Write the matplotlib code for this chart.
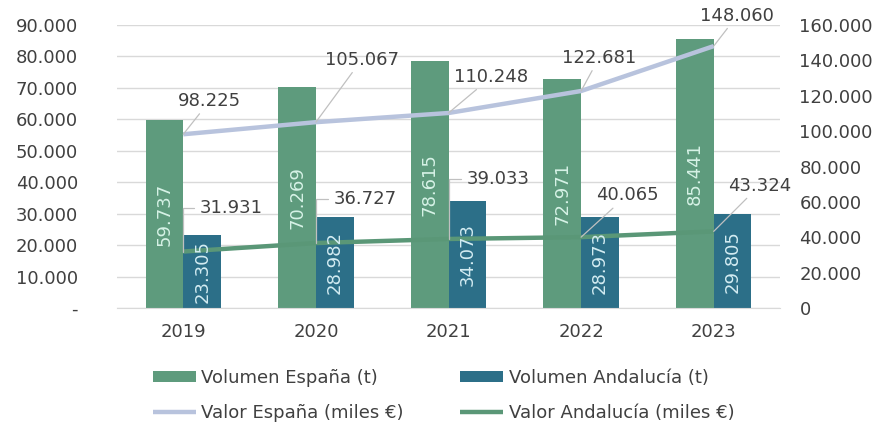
import matplotlib
matplotlib.use("Agg")
import matplotlib.pyplot as plt
import numpy as np
from matplotlib.ticker import FuncFormatter

years = ["2019", "2020", "2021", "2022", "2023"]
vol_espana = [59737, 70269, 78615, 72971, 85441]
vol_andalucia = [23305, 28982, 34073, 28973, 29805]
valor_espana = [98225, 105067, 110248, 122681, 148060]
valor_andalucia = [31931, 36727, 39033, 40065, 43324]

c_vol_esp = "#5E9B7D"
c_vol_and = "#2C6F88"
c_val_esp = "#B8C3DD"
c_val_and = "#5A9777"
c_text = "#404040"
c_lead = "#C0C0C0"

plt.rcParams['font.family'] = ['DejaVu Sans']

fig = plt.figure(figsize=(8.8, 4.23), dpi=100)
ax = fig.add_axes([117/880, 1-308/423, (780-117)/880, (308-25)/423])
ax2 = ax.twinx()

x = np.arange(len(years))
w = 0.285
b1 = ax.bar(x - w/2, vol_espana, w, color=c_vol_esp, zorder=2, label="Volumen España (t)")
b2 = ax.bar(x + w/2, vol_andalucia, w, color=c_vol_and, zorder=2, label="Volumen Andalucía (t)")

def fmt(v):
    return f"{int(round(v)):,}".replace(",", ".")

ax.set_ylim(0, 90000)
ax.set_yticks(np.arange(0, 90001, 10000))
ax.yaxis.set_major_formatter(FuncFormatter(lambda v, p: "-" if v == 0 else fmt(v)))
ax.set_xlim(-0.5, 4.5)
ax.set_xticks(x)
ax.set_xticklabels(years)
ax.grid(axis='y', color="#D9D9D9", linewidth=1, zorder=0)
ax.set_axisbelow(True)
for s in ax.spines.values():
    s.set_visible(False)
ax.spines['bottom'].set_visible(True)
ax.spines['bottom'].set_color("#D9D9D9")
ax.tick_params(axis='y', length=0, labelsize=13, labelcolor=c_text, pad=28)
ax.tick_params(axis='x', length=0, labelsize=13, labelcolor=c_text, pad=11)

l1, = ax2.plot(x, valor_espana, color=c_val_esp, linewidth=3.2, solid_capstyle='butt',
               solid_joinstyle='round', zorder=3, label="Valor España (miles €)")
l2, = ax2.plot(x, valor_andalucia, color=c_val_and, linewidth=3.2, solid_capstyle='butt',
               solid_joinstyle='round', zorder=3, label="Valor Andalucía (miles €)")
ax2.set_ylim(0, 160000)
ax2.set_yticks(np.arange(0, 160001, 20000))
ax2.yaxis.set_major_formatter(FuncFormatter(lambda v, p: fmt(v)))
ax2.tick_params(axis='y', length=0, labelsize=13, labelcolor=c_text, pad=14)
for s in ax2.spines.values():
    s.set_visible(False)
ax.set_zorder(1)
ax2.set_zorder(2)
ax2.patch.set_visible(False)

# bar labels (drawn above the lines)
for rect, v in zip(b1, vol_espana):
    ax2.text(rect.get_x() + rect.get_width()/2, v/2, fmt(v), rotation=90,
             transform=ax.transData, ha='center', va='center',
             color="#D6F2E6", fontsize=13, zorder=5)
for rect, v in zip(b2, vol_andalucia):
    ax2.text(rect.get_x() + rect.get_width()/2, v/2, fmt(v), rotation=90,
             transform=ax.transData, ha='center', va='center',
             color="#D3ECF2", fontsize=13, zorder=5)

# callouts Valor España
esp_off = [(19, 24), (33, 45), (31, 26), (13, 24), (17, 22)]
for i, (v, off) in enumerate(zip(valor_espana, esp_off)):
    ax2.annotate(fmt(v), xy=(i, v), xytext=off, textcoords='offset points',
                 ha='center', va='center', fontsize=13, color=c_text,
                 arrowprops=dict(arrowstyle='-', color=c_lead, lw=0.9,
                                 shrinkA=1, shrinkB=0))

# callouts Valor Andalucía
and_off = [(12, 31), (13, 32), (13, 43), (33, 30), (33, 33)]
for i, (v, off) in enumerate(zip(valor_andalucia, and_off)):
    if i < 3:
        ax2.annotate(fmt(v), xy=(i, v), xytext=off, textcoords='offset points',
                     ha='left', va='center', fontsize=13, color=c_text,
                     arrowprops=dict(arrowstyle='-', color=c_lead, lw=0.9,
                                     shrinkA=2, shrinkB=0,
                                     connectionstyle="angle,angleA=0,angleB=90,rad=0"))
    else:
        ax2.annotate(fmt(v), xy=(i, v), xytext=off, textcoords='offset points',
                     ha='center', va='center', fontsize=13, color=c_text,
                     arrowprops=dict(arrowstyle='-', color=c_lead, lw=0.9,
                                     shrinkA=1, shrinkB=0))

handles = [b1, l1, b2, l2]
labels = [h.get_label() for h in handles]
leg = fig.legend(handles, labels, ncol=2, loc='upper left',
                 bbox_to_anchor=(140/880, 1-356/423), frameon=False,
                 fontsize=13, labelcolor=c_text, handlelength=2.4,
                 handleheight=0.6, handletextpad=0.3, columnspacing=3.1,
                 labelspacing=0.95, borderpad=0.2)
for lh in leg.get_lines():
    lh.set_linewidth(3.2)

fig.savefig("out.png", dpi=100)
